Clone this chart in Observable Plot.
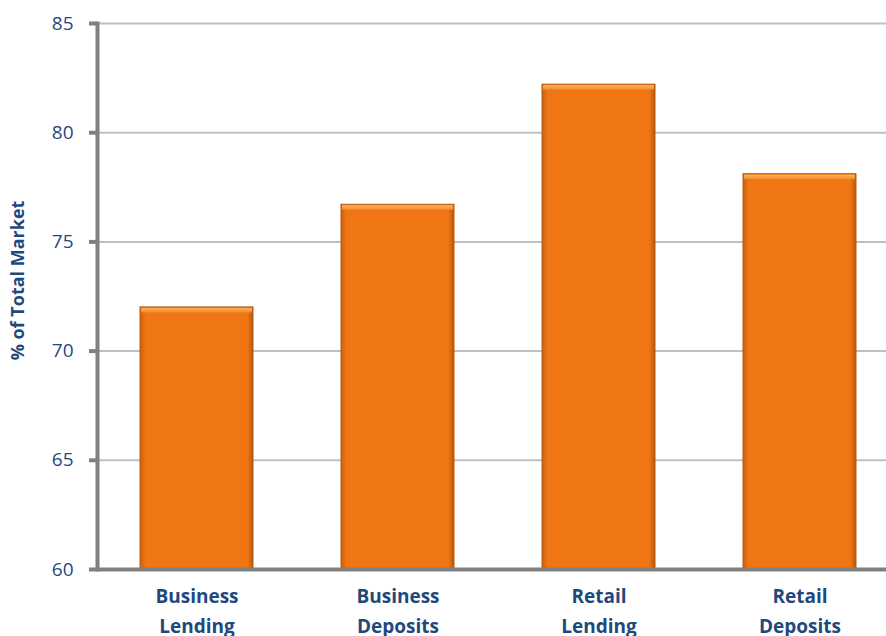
<!DOCTYPE html>
<html>
<head>
<meta charset="utf-8">
<script src="https://cdn.jsdelivr.net/npm/d3@7"></script>
<script src="https://cdn.jsdelivr.net/npm/@observablehq/plot@0.6"></script>
<style>
  html, body { margin: 0; padding: 0; background: #ffffff; }
  #chart { width: 886px; height: 636px; overflow: hidden; }
</style>
</head>
<body>
<div id="chart"></div>
<script>
const categories = ["Business Lending", "Business Deposits", "Retail Lending", "Retail Deposits"];
const values = [72.0, 76.7, 82.2, 78.1];
const yTicks = [60, 65, 70, 75, 80, 85];
const yTitle = "% of Total Market";

const data = categories.map((c, i) => ({category: c, value: values[i]}));
const blue = "#1f497d";
const font = "'Open Sans', Lato, sans-serif";

const svg = Plot.plot({
  width: 886,
  height: 636,
  marginLeft: 97,
  marginRight: 0,
  marginTop: 23,
  marginBottom: 67,
  style: {fontFamily: font, background: "#ffffff"},
  x: {domain: categories, range: [96, 900], paddingInner: 0.44, paddingOuter: 0.22, label: null},
  y: {domain: [60, 85], label: null},
  marks: [
    Plot.gridY(yTicks, {stroke: "#bfbfbf", strokeOpacity: 1, strokeWidth: 2}),
    Plot.barY(data, {x: "category", y1: 60, y2: "value", fill: "url(#barGrad)", stroke: "#b85a0c", strokeWidth: 1}),
    Plot.barY(data, {x: "category", y1: "value", y2: d => d.value - 0.3, fill: "url(#topGrad)", inset: 1}),
    Plot.ruleY([60], {stroke: "#808080", strokeWidth: 4}),
    Plot.frame({anchor: "left", stroke: "#808080", strokeWidth: 4}),
    Plot.axisY(yTicks, {
      tickSize: 8, tickPadding: 16, stroke: "#808080", strokeWidth: 4,
      fill: blue, fontSize: 19, label: null
    }),
    Plot.axisX({
      tickSize: 0, tickPadding: 13, fill: blue, fontSize: 19, fontWeight: "bold",
      lineHeight: 1.55, tickFormat: d => d.replace(" ", "\n"), label: null
    }),
    Plot.text([yTitle], {
      frameAnchor: "left", textAnchor: "middle", rotate: -90, dx: -79, dy: -16,
      fill: blue, fontSize: 18, fontWeight: "bold"
    })
  ]
});

const defs = d3.select(svg).insert("defs", ":first-child");
const g1 = defs.append("linearGradient").attr("id", "barGrad").attr("x1", "0").attr("x2", "1").attr("y1", "0").attr("y2", "0");
[["0%", "#c9600c"], ["5%", "#f07614"], ["95%", "#f07614"], ["100%", "#b9570a"]]
  .forEach(([o, c]) => g1.append("stop").attr("offset", o).attr("stop-color", c));
const g2 = defs.append("linearGradient").attr("id", "topGrad").attr("x1", "0").attr("x2", "0").attr("y1", "0").attr("y2", "1");
[["0%", "#fbb25e"], ["100%", "#f08a2c"]]
  .forEach(([o, c]) => g2.append("stop").attr("offset", o).attr("stop-color", c));

document.getElementById("chart").appendChild(svg);
</script>
</body>
</html>
